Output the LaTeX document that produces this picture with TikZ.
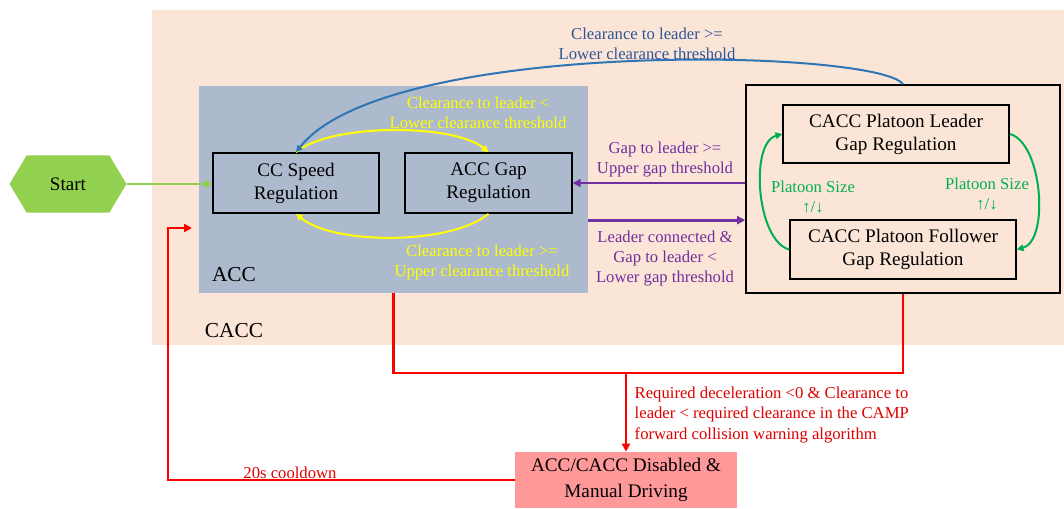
\documentclass[tikz,border=0pt]{standalone}
\usepackage{fontspec}
\setmainfont{Liberation Serif}
\usetikzlibrary{shapes.symbols,arrows.meta}
\definecolor{peach}{HTML}{FBE5D6}
\definecolor{accblue}{HTML}{ADBACE}
\definecolor{startgreen}{HTML}{92D050}
\definecolor{platgreen}{HTML}{00B050}
\definecolor{gapviolet}{HTML}{7030A0}
\definecolor{arcblue}{HTML}{2E75B6}
\definecolor{txtblue}{HTML}{2F5597}
\definecolor{stopred}{HTML}{FF0000}
\definecolor{txtred}{HTML}{E00000}
\definecolor{stoppink}{HTML}{FF9999}
\definecolor{arcyellow}{HTML}{FFFF00}

\begin{document}
\begin{tikzpicture}[x=0.75pt,y=0.75pt,
        regbox/.style={draw=black,line width=1.2pt,inner sep=0pt,align=center,
            font=\fontsize{14.4}{17.3}\selectfont},
        lbl/.style={align=center,font=\fontsize{12.5}{15}\selectfont},
        area/.style={font=\fontsize{16}{19}\selectfont},
        tip/.style={-{Triangle[length=6pt,width=6pt]}},
        smalltip/.style={-{Triangle[length=5pt,width=5pt]}}]
        \useasboundingbox (0,0) rectangle (1064,508);
        % CACC region
        \fill[peach] (152,163) rectangle (1064,498);
        \node[area] (cacclbl) at (234,177) {CACC};

        % ACC part
        \node[fill=accblue,minimum width=291.75pt,minimum height=155.25pt,inner sep=0pt] (acc) at (393.5,318.5) {};
        \node[area] (acclbl) at (234,233) {ACC};
        \node[regbox,minimum width=124.5pt,minimum height=45pt] (cc) at (296,325) {CC Speed\\Regulation};
        \node[regbox,minimum width=125pt,minimum height=45pt] (gap) at (488.5,325) {ACC Gap\\Regulation};

        % platoon part
        \node[draw=black,line width=1.2pt,minimum width=235.5pt,minimum height=156pt,inner sep=0pt] (cacc) at (903,319) {};
        \node[regbox,minimum width=169.5pt,minimum height=43.5pt] (leader) at (896,374) {CACC Platoon Leader\\Gap Regulation};
        \node[regbox,minimum width=169.5pt,minimum height=44pt] (follower) at (903,258.5) {CACC Platoon Follower\\Gap Regulation};

        % start and fallback
        \node[signal,signal to=west and east,signal pointer angle=118,fill=startgreen,
            minimum width=87.75pt,minimum height=42.75pt,inner sep=0pt,
            font=\fontsize{14.3}{17}\selectfont] (start) at (68,324) {Start};
        \node[fill=stoppink,minimum width=166.5pt,minimum height=42pt,inner sep=0pt,align=center,
            font=\fontsize{14.4}{19.5}\selectfont] (dis) at (626,28) {ACC/CACC Disabled \&\\Manual Driving};

        % start arrow
        \draw[startgreen,line width=2pt,tip] (start.east) -- (start.east -| cc.west);

        % ACC switching
        \draw[arcyellow,line width=1.5pt,smalltip] (cc.north) to[out=40,in=140,looseness=0.6] (gap.north);
        \draw[arcyellow,line width=1.5pt,smalltip] (gap.south) to[out=-140,in=-40,looseness=0.65] (cc.south);
        \node[lbl,text=arcyellow] (ylw1) at (478,395) {Clearance to leader <\\Lower clearance threshold};
        \node[lbl,text=arcyellow] (ylw2) at (482,246) {Clearance to leader >=\\Upper clearance threshold};

        % CACC back to CC
        \draw[arcblue,line width=1.5pt,smalltip] (cacc.north) .. controls +(-25,35) and +(90,115) .. (cc.north);
        \node[lbl,text=txtblue] (blu) at (647,464.5) {Clearance to leader >=\\Lower clearance threshold};

        % gap switching
        \draw[gapviolet,line width=2pt,tip] (cacc.west |- gap.east) -- (gap.east);
        \draw[gapviolet,line width=2pt,tip] ([yshift=-23pt]acc.east) -- ([yshift=-23pt]acc.east -| cacc.west);
        \node[lbl,text=gapviolet] (vio1) at (665,348) {Gap to leader >=\\Upper gap threshold};
        \node[lbl,text=gapviolet] (vio2) at (665,249) {Leader connected \&\\Gap to leader <\\Lower gap threshold};

        % platoon size
        \draw[platgreen,line width=1.5pt,smalltip] (follower.west) to[out=165,in=195,looseness=0.75] (leader.west);
        \draw[platgreen,line width=1.5pt,smalltip] (leader.east) to[out=-15,in=15,looseness=0.75] (follower.east);
        \node[lbl,text=platgreen] (size1) at (813,311) {Platoon Size\\↑/↓};
        \node[lbl,text=platgreen] (size2) at (987,314) {Platoon Size\\↑/↓};

        % disable
        \coordinate (join) at (626,135);
        \draw[stopred,line width=2pt] (acc.south) |- (join) -| (cacc.south);
        \draw[stopred,line width=2pt,tip] (join) -- (dis.north);
        \node[lbl,text=txtred,align=left,anchor=west,font=\fontsize{12.5}{15.4}\selectfont] (why) at (630,93)
            {Required deceleration <0 \& Clearance to\\leader < required clearance in the CAMP\\forward collision warning algorithm};
        \coordinate (back) at (168,280);
        \draw[stopred,line width=2pt,tip,shorten >=5pt] (dis.west) -| (back) -- (back -| acc.west);
        \node[lbl,text=txtred] (cool) at (290,35) {20s cooldown};
\end{tikzpicture}
\end{document}
